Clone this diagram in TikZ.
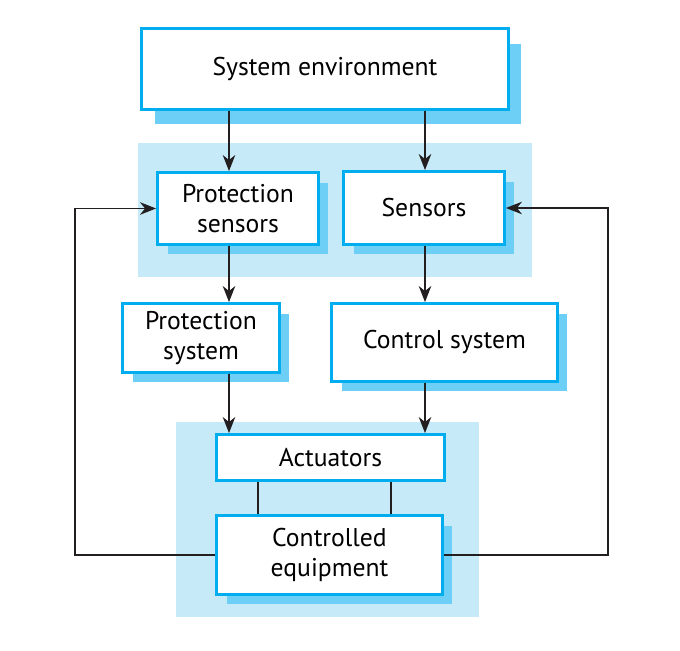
\documentclass[tikz,border=0pt]{standalone}
\usepackage{fontspec}
\setmainfont{PT Sans}
\usetikzlibrary{arrows.meta,shadows}

\definecolor{boxline}{HTML}{00AEEF}
\definecolor{boxshade}{HTML}{6DCFF6}
\definecolor{groupbg}{HTML}{C7EAF9}
\definecolor{arrline}{HTML}{231F20}

\tikzset{
  block/.style = {draw = boxline, line width = 0.068cm, fill = white,
    align = center, inner sep = 0pt,
    font = \fontsize{14.6}{17.4}\selectfont},
  shade/.style = {general shadow = {fill = boxshade,
    shadow xshift = 0.2cm, shadow yshift = -0.2cm}},
  arr/.style = {draw = arrline, line width = 0.028cm,
    -{Stealth[length = 0.32cm, width = 0.25cm, inset = 0.1cm]}},
  link/.style = {draw = arrline, line width = 0.028cm}
}

\begin{document}
\begin{tikzpicture}[x = 0.02cm, y = -0.02cm]

    \useasboundingbox (0,0) rectangle (680,651);

    % shaded groups
    \fill[groupbg] (138,143) rectangle (532,277);
    \fill[groupbg] (176,422) rectangle (479,617);

    \node[block,
    general shadow = {fill = boxshade, shadow xshift = 0.26cm, shadow yshift = -0.3cm},
    minimum width = 7.33cm,
    minimum height = 1.61cm] (sysenv) at (325,69) {System environment};

    \node[block, shade,
    minimum width = 3.21cm,
    minimum height = 1.43cm] (psens) at (238,208.5) {Protection\\sensors};

    \node[block, shade,
    minimum width = 3.21cm,
    minimum height = 1.45cm] (sens) at (424,208) {Sensors};

    \node[block, shade,
    minimum width = 3.13cm,
    minimum height = 1.37cm] (psys) at (201,338) {Protection\\system};

    \node[block, shade,
    minimum width = 4.51cm,
    minimum height = 1.55cm] (ctrl) at (444.5,342.5) {Control system};

    \node[block,
    minimum width = 4.55cm,
    minimum height = 0.91cm] (act) at (330.5,457.5) {Actuators};

    \node[block, shade,
    minimum width = 4.51cm,
    minimum height = 1.57cm] (equip) at (329.5,555) {Controlled\\equipment};

    \coordinate (lcol) at (229,0);
    \coordinate (rcol) at (425,0);
    \coordinate (lfb) at (75,0);
    \coordinate (rfb) at (608,0);
    \coordinate (ja) at (258,0);
    \coordinate (jb) at (391,0);

      \draw[arr] (sysenv.south -| lcol) -- (psens.north -| lcol);
      \draw[arr] (sysenv.south -| rcol) -- (sens.north -| rcol);
      \draw[arr] (psens.south -| lcol) -- (psys.north -| lcol);
      \draw[arr] (sens.south -| rcol) -- (ctrl.north -| rcol);
      \draw[arr] (psys.south -| lcol) -- (act.north -| lcol);
      \draw[arr] (ctrl.south -| rcol) -- (act.north -| rcol);

      \draw[link] (act.south -| ja) -- (equip.north -| ja);
      \draw[link] (act.south -| jb) -- (equip.north -| jb);

      \draw[arr] (equip.west) -- (equip.west -| lfb) |- (psens.west);
      \draw[arr] (equip.east) -- (equip.east -| rfb) |- (sens.east);
  \end{tikzpicture}
\end{document}
